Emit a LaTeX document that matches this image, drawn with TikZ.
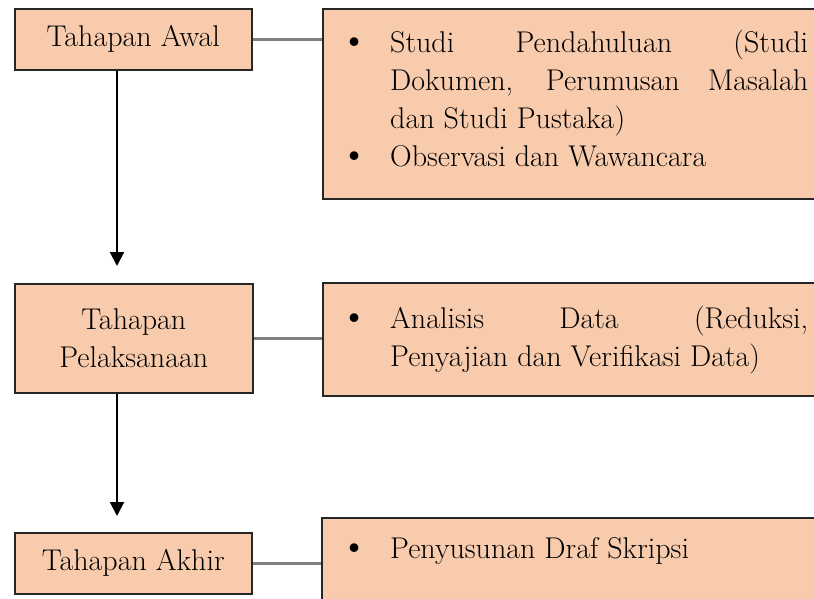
\documentclass[tikz,border=0pt]{standalone}
\usetikzlibrary{arrows.meta}
\definecolor{peach}{HTML}{F8CBAD}
\begin{document}
\begin{tikzpicture}[x=1pt,y=-1pt,
  box/.style={draw=black!85,line width=1.5pt,fill=peach,inner sep=0pt,anchor=north west,
    font=\fontsize{30}{38}\selectfont,align=center},
  link/.style={draw=black!50,line width=2.5pt},
  flow/.style={draw=black,line width=2pt,-{Triangle[length=14pt,width=14pt]}},
  itemtxt/.style={inner sep=0pt,anchor=base west,font=\fontsize{30}{38}\selectfont}]
\useasboundingbox (0,0) rectangle (814,598);
\clip (0,0) rectangle (814,598);
% left boxes
\node[box,minimum width=237pt,minimum height=61pt] (a) at (14,8) {Tahapan Awal};
\node[box,minimum width=238pt,minimum height=109pt] (b) at (14,283) {Tahapan\\Pelaksanaan};
\node[box,minimum width=237pt,minimum height=61pt] (c) at (14,532) {Tahapan Akhir};
% right boxes
\node[box,minimum width=520pt,minimum height=190pt] (ra) at (322,8) {};
\node[box,minimum width=520pt,minimum height=113pt] (rb) at (322,282) {};
\node[box,minimum width=520pt,minimum height=100pt] (rc) at (321,517) {};
% texts in right boxes
\node[itemtxt] (ta) at (340,52) {\begin{tabular}[t]{@{}p{50pt}@{}l@{}}
\scalebox{1.3}{\textbullet} & \makebox[418pt][s]{Studi Pendahuluan (Studi}\\
 & \makebox[418pt][s]{Dokumen, Perumusan Masalah}\\
 & dan Studi Pustaka)\\
\scalebox{1.3}{\textbullet} & Observasi dan Wawancara
\end{tabular}};
\node[itemtxt] (tb) at (340,328) {\begin{tabular}[t]{@{}p{50pt}@{}l@{}}
\scalebox{1.3}{\textbullet} & \makebox[418pt][s]{Analisis Data (Reduksi,}\\
 & Penyajian dan Verifikasi Data)
\end{tabular}};
\node[itemtxt] (tc) at (340,558) {\begin{tabular}[t]{@{}p{50pt}@{}l@{}}
\scalebox{1.3}{\textbullet} & Penyusunan Draf Skripsi
\end{tabular}};
% connectors
\draw[link] (a.east) -- (a.east -| ra.west);
\draw[link] (b.east) -- (b.east -| rb.west);
\draw[link] (c.east) -- (c.east -| rc.west);
% arrows
\coordinate (ab) at (117,266);
\coordinate (bc) at (117,516);
\draw[flow] (a.south -| ab) -- (ab);
\draw[flow] (b.south -| bc) -- (bc);
\end{tikzpicture}
\end{document}
